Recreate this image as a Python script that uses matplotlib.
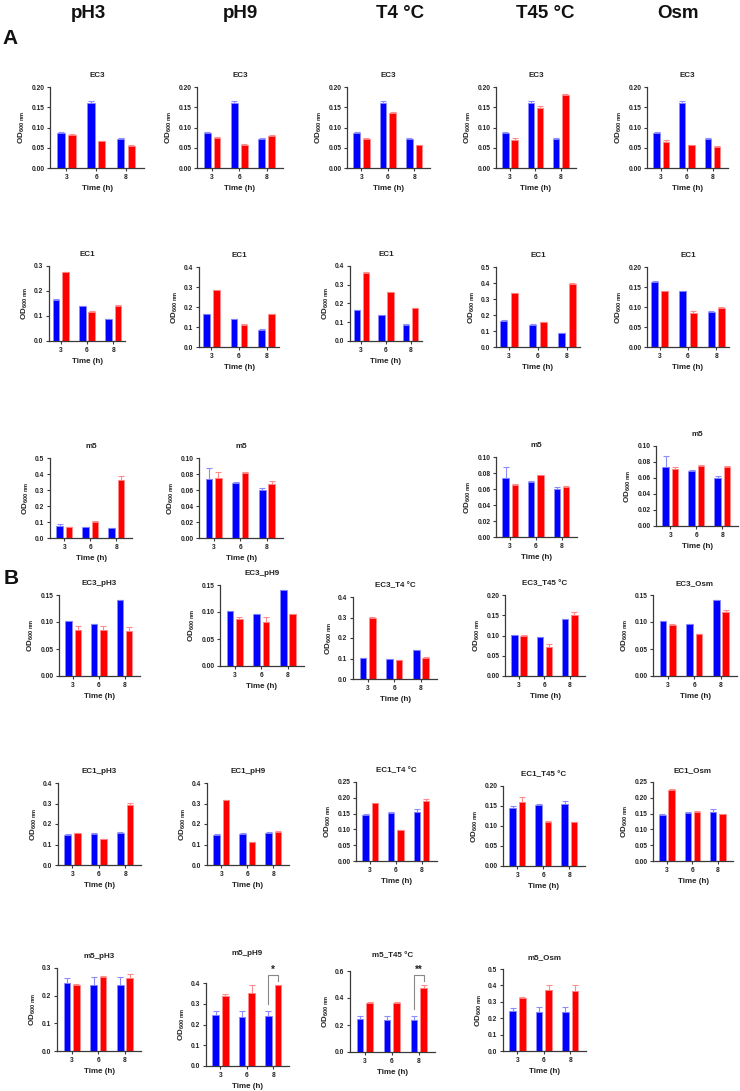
import numpy as np
import matplotlib
matplotlib.use("Agg")
from matplotlib import pyplot as plt

plt.rcParams['font.family'] = ['Liberation Sans', 'DejaVu Sans']
plt.rcParams['font.weight'] = 'bold'
plt.rcParams['mathtext.fontset'] = 'custom'
plt.rcParams['mathtext.rm'] = 'Liberation Sans:bold'
plt.rcParams['mathtext.bf'] = 'Liberation Sans:bold'
plt.rcParams['mathtext.default'] = 'bf'

times = ['3', '6', '8']
conditions = ['pH3', 'pH9', 'T4 °C', 'T45 °C', 'Osm']

# ---- A: control (blue) vs stress (red) per strain ----
a_ec3_ctrl = [0.087, 0.161, 0.071]
a_ec3_ctrl_err = [0.001, 0.004, 0.002]
a_ec3_red = {
    'pH3': [0.082, 0.066, 0.055],
    'pH9': [0.073, 0.057, 0.080],
    'T4 °C': [0.071, 0.136, 0.056],
    'T45 °C': [0.070, 0.149, 0.180],
    'Osm': [0.065, 0.056, 0.052],
}
a_ec3_red_err = {
    'pH3': [0.003, 0.001, 0.003],
    'pH9': [0.003, 0.002, 0.001],
    'T4 °C': [0.002, 0.003, 0.002],
    'T45 °C': [0.005, 0.003, 0.002],
    'Osm': [0.005, 0.002, 0.002],
}

a_ec1_ctrl = [0.163, 0.139, 0.087]
a_ec1_ctrl_err = [0.003, 0.002, 0.002]
a_ec1_red = {
    'pH3': [0.275, 0.117, 0.140],
    'pH9': [0.285, 0.110, 0.165],
    'T4 °C': [0.362, 0.260, 0.175],
    'T45 °C': [0.338, 0.155, 0.395],
    'Osm': [0.140, 0.086, 0.097],
}
a_ec1_red_err = {
    'pH3': [0.002, 0.001, 0.002],
    'pH9': [0.001, 0.003, 0.001],
    'T4 °C': [0.004, 0.003, 0.002],
    'T45 °C': [0.002, 0.003, 0.003],
    'Osm': [0.001, 0.004, 0.003],
}

a_m5_ctrl = [0.074, 0.069, 0.060]
a_m5_ctrl_err = [0.013, 0.001, 0.002]
a_m5_red = {
    'pH3': [0.070, 0.101, 0.363],
    'pH9': [0.075, 0.081, 0.067],
    'T45 °C': [0.065, 0.077, 0.062],
    'Osm': [0.071, 0.075, 0.074],
}
a_m5_red_err = {
    'pH3': [0.001, 0.005, 0.022],
    'pH9': [0.008, 0.001, 0.004],
    'T45 °C': [0.001, 0.001, 0.002],
    'Osm': [0.003, 0.001, 0.001],
}

# ---- B: strain x condition ----
b_ec3_ctrl = [0.101, 0.096, 0.140]
b_ec3_ctrl_err = [0.0, 0.0, 0.0]
b_ec3_red = {
    'pH3': [0.085, 0.086, 0.084],
    'pH9': [0.087, 0.081, 0.097],
    'T4 °C': [0.298, 0.092, 0.103],
    'T45 °C': [0.100, 0.072, 0.151],
    'Osm': [0.094, 0.077, 0.118],
}
b_ec3_red_err = {
    'pH3': [0.007, 0.006, 0.006],
    'pH9': [0.003, 0.009, 0.0],
    'T4 °C': [0.005, 0.002, 0.003],
    'T45 °C': [0.002, 0.008, 0.008],
    'Osm': [0.003, 0.001, 0.004],
}

b_ec1_ctrl = [0.145, 0.152, 0.155]
b_ec1_ctrl_err = [0.004, 0.003, 0.008]
b_ec1_red = {
    'pH3': [0.154, 0.125, 0.295],
    'pH9': [0.318, 0.110, 0.162],
    'T4 °C': [0.182, 0.097, 0.189],
    'T45 °C': [0.160, 0.110, 0.109],
    'Osm': [0.226, 0.155, 0.148],
}
b_ec1_red_err = {
    'pH3': [0.002, 0.002, 0.008],
    'pH9': [0.001, 0.003, 0.002],
    'T4 °C': [0.002, 0.002, 0.008],
    'T45 °C': [0.012, 0.003, 0.001],
    'Osm': [0.002, 0.004, 0.002],
}

b_m5_ctrl = [0.245, 0.238, 0.240]
b_m5_ctrl_err = [0.018, 0.028, 0.027]
b_m5_red = {
    'pH3': [0.237, 0.267, 0.265],
    'pH9': [0.337, 0.351, 0.388],
    'T45 °C': [0.360, 0.362, 0.476],
    'Osm': [0.325, 0.370, 0.363],
}
b_m5_red_err = {
    'pH3': [0.004, 0.004, 0.013],
    'pH9': [0.012, 0.038, 0.001],
    'T45 °C': [0.010, 0.012, 0.020],
    'Osm': [0.005, 0.033, 0.037],
}

# significance marks: (panel title, time index, label)
sig_marks = [('m5_pH9', 2, '*'), ('m5_T45 °C', 2, '**')]

BLUE, BLUE_EDGE = '#0000ff', '#8c8cff'
RED, RED_EDGE = '#ff0000', '#ff8c8c'
AXC = '#3a3a3a'

W, H = 740, 1091
fig = plt.figure(figsize=(W / 100, H / 100), dpi=100)


def draw(box, title, ctrl, ctrl_err, red, red_err, ymax, ystep,
         xlim=(-0.55, 2.6), title_gap=7):
    l, t, r, b = box
    ax = fig.add_axes([l / W, 1 - b / H, (r - l) / W, (b - t) / H])
    x = np.arange(len(times))
    off, bw = 0.18, 0.25
    ax.bar(x - off, ctrl, bw, color=BLUE, edgecolor=BLUE_EDGE, linewidth=0.6, zorder=2)
    ax.bar(x + off, red, bw, color=RED, edgecolor=RED_EDGE, linewidth=0.6, zorder=2)
    ax.errorbar(x - off, ctrl, yerr=[np.zeros(3), ctrl_err], fmt='none',
                ecolor=BLUE_EDGE, elinewidth=0.8, capsize=2, capthick=0.8, zorder=1)
    ax.errorbar(x + off, red, yerr=[np.zeros(3), red_err], fmt='none',
                ecolor=RED_EDGE, elinewidth=0.8, capsize=2, capthick=0.8, zorder=1)
    ax.set_xlim(*xlim)
    ax.set_ylim(0, ymax)
    yt = np.arange(0, ymax + ystep / 2, ystep)
    dec = 2 if ystep < 0.1 else 1
    ax.set_yticks(yt)
    ax.set_yticklabels([f'{v:.{dec}f}' for v in yt])
    ax.set_xticks(x)
    ax.set_xticklabels(times)
    for s in ['top', 'right']:
        ax.spines[s].set_visible(False)
    for s in ['left', 'bottom']:
        ax.spines[s].set_color(AXC)
        ax.spines[s].set_linewidth(0.9)
    ax.tick_params(colors=AXC, labelcolor='#222222', labelsize=4.8, length=2.5,
                   width=0.8, pad=1.5)
    ax.set_title(title, fontsize=5.8, fontweight='bold', pad=title_gap, color='#222222')
    ax.set_xlabel('Time (h)', fontsize=5.8, fontweight='bold', labelpad=3, color='#222222')
    ax.set_ylabel(r'OD$_{600\ nm}$', fontsize=5.8, fontweight='bold', labelpad=3,
                  color='#222222')
    for name, i, lab in sig_marks:
        if name == title:
            span = ymax
            yl = ctrl[i] + ctrl_err[i] + 0.08 * span
            yr = red[i] + red_err[i] + 0.05 * span
            yt_ = red[i] + red_err[i] + 0.12 * span
            ax.plot([i - off, i - off, i + off, i + off], [yl, yt_, yt_, yr],
                    color='#888888', lw=0.8, clip_on=False)
            ax.text(i, yt_ + 0.01 * span, lab, ha='center', va='bottom',
                    fontsize=7, fontweight='bold', color='#222222')
    return ax


# A panels (pixel boxes: left, top, right, bottom)
a_boxes_ec3 = [(50, 87, 144, 168), (197, 87, 283, 168), (347, 87, 430, 168),
               (496, 87, 576, 168), (647, 87, 728, 168)]
a_boxes_ec1 = [(49, 266, 125, 341), (199, 267, 279, 347), (350, 266, 422, 341),
               (496, 267, 580, 347), (647, 267, 729, 347)]
a_boxes_m5 = {'pH3': (50, 458, 132, 538), 'pH9': (199, 458, 283, 538),
              'T45 °C': (496, 457, 577, 537), 'Osm': (656, 446, 738, 526)}
a_lim_ec1 = {'pH3': (0.3, 0.1), 'pH9': (0.4, 0.1), 'T4 °C': (0.4, 0.1),
             'T45 °C': (0.5, 0.1), 'Osm': (0.20, 0.05)}
a_lim_m5 = {'pH3': (0.5, 0.1), 'pH9': (0.10, 0.02), 'T45 °C': (0.10, 0.02),
            'Osm': (0.10, 0.02)}

for c, box in zip(conditions, a_boxes_ec3):
    draw(box, 'EC3', a_ec3_ctrl, a_ec3_ctrl_err, a_ec3_red[c], a_ec3_red_err[c], 0.20, 0.05)
for c, box in zip(conditions, a_boxes_ec1):
    ym, st = a_lim_ec1[c]
    draw(box, 'EC1', a_ec1_ctrl, a_ec1_ctrl_err, a_ec1_red[c], a_ec1_red_err[c], ym, st,
         xlim=(-0.45, 2.45))
for c, box in a_boxes_m5.items():
    ym, st = a_lim_m5[c]
    draw(box, 'm5', a_m5_ctrl, a_m5_ctrl_err, a_m5_red[c], a_m5_red_err[c], ym, st)

# B panels
b_boxes_ec3 = [(59, 595, 140, 676), (220, 585, 304, 666), (353, 597, 437, 679),
               (505, 595, 585, 676), (653, 595, 737, 676)]
b_boxes_ec1 = [(58, 783, 141, 865), (207, 783, 289, 865), (356, 782, 437, 861),
               (503, 786, 585, 866), (653, 782, 733, 861)]
b_boxes_m5 = {'pH3': (57, 968, 141, 1051), 'pH9': (206, 983, 289, 1066),
              'T45 °C': (350, 971, 435, 1052), 'Osm': (503, 969, 586, 1051)}
b_gap_m5 = {'pH3': 7, 'pH9': 20, 'T45 °C': 10, 'Osm': 7}
b_lim_ec3 = {'pH3': (0.15, 0.05), 'pH9': (0.15, 0.05), 'T4 °C': (0.4, 0.1),
             'T45 °C': (0.20, 0.05), 'Osm': (0.15, 0.05)}
b_lim_ec1 = {'pH3': (0.4, 0.1), 'pH9': (0.4, 0.1), 'T4 °C': (0.25, 0.05),
             'T45 °C': (0.20, 0.05), 'Osm': (0.25, 0.05)}
b_lim_m5 = {'pH3': (0.3, 0.1), 'pH9': (0.4, 0.1), 'T45 °C': (0.6, 0.2), 'Osm': (0.5, 0.1)}

for c, box in zip(conditions, b_boxes_ec3):
    ym, st = b_lim_ec3[c]
    draw(box, f'EC3_{c}', b_ec3_ctrl, b_ec3_ctrl_err, b_ec3_red[c], b_ec3_red_err[c], ym, st)
for c, box in zip(conditions, b_boxes_ec1):
    ym, st = b_lim_ec1[c]
    draw(box, f'EC1_{c}', b_ec1_ctrl, b_ec1_ctrl_err, b_ec1_red[c], b_ec1_red_err[c], ym, st)
for c, box in b_boxes_m5.items():
    ym, st = b_lim_m5[c]
    draw(box, f'm5_{c}', b_m5_ctrl, b_m5_ctrl_err, b_m5_red[c], b_m5_red_err[c], ym, st,
         title_gap=b_gap_m5[c])

# column headers and panel letters
header_x = [88, 240, 400, 545, 678]
for c, hx in zip(conditions, header_x):
    fig.text(hx / W, 1 - 13 / H, c, ha='center', va='center', fontsize=13.5,
             fontweight='bold', color='#111111')
fig.text(10 / W, 1 - 38 / H, 'A', ha='center', va='center', fontsize=15,
         fontweight='bold', color='#111111')
fig.text(11 / W, 1 - 578 / H, 'B', ha='center', va='center', fontsize=15,
         fontweight='bold', color='#111111')

fig.savefig('out.png', dpi=100)
